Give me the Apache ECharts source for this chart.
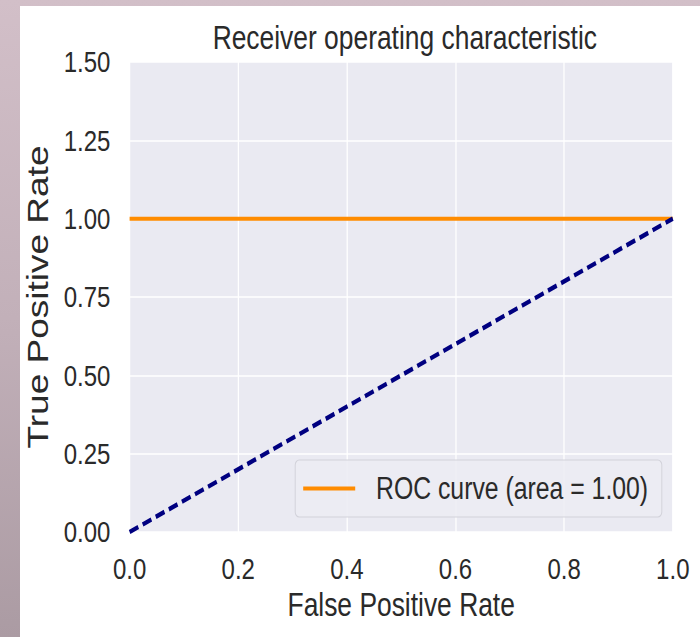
<!DOCTYPE html>
<html>
<head>
<meta charset="utf-8">
<script src="https://cdn.jsdelivr.net/npm/echarts@6/dist/echarts.min.js"></script>
<style>
html,body{margin:0;padding:0;width:700px;height:637px;overflow:hidden;}
body{background:linear-gradient(180deg,#d2bfc8 0%,#c2b0b9 50%,#ab9ba3 100%);position:relative;}
#paper{position:absolute;left:20px;top:6px;right:0;bottom:0;background:#ffffff;}
#chart{position:absolute;left:0;top:0;width:875px;height:637px;transform:scaleX(0.8);transform-origin:0 0;}
</style>
</head>
<body>
<div id="paper"></div>
<div id="chart"></div>
<script>
// ---- data ----
const rocName = 'ROC curve (area = 1.00)';
const rocFpr = [0.0, 1.0];
const rocTpr = [1.0, 1.0];
const chanceFpr = [0.0, 1.0];
const chanceTpr = [0.0, 1.0];
const xTickLabels = ['0.0', '0.2', '0.4', '0.6', '0.8', '1.0'];
const yTickLabels = ['0.00', '0.25', '0.50', '0.75', '1.00', '1.25', '1.50'];
const titleText = 'Receiver operating characteristic';
const xName = 'False Positive Rate';
const yName = 'True Positive Rate';

const FONT = '"Liberation Sans", Arial, Helvetica, sans-serif';
const TXT = '#2a2a2a';

const chart = echarts.init(document.getElementById('chart'), null, {renderer: 'svg', width: 875, height: 637});
chart.setOption({
  animation: false,
  title: {
    text: titleText,
    left: 501,
    top: 16,
    textAlign: 'center',
    textStyle: {fontFamily: FONT, fontSize: 33, fontWeight: 'normal', color: TXT}
  },
  grid: {
    left: 162, right: 34, top: 62, bottom: 105,
    show: true, backgroundColor: '#EAEAF2', borderWidth: 0
  },
  legend: {
    data: [rocName],
    left: 369, top: 460,
    icon: 'rect', itemWidth: 65, itemHeight: 4, itemGap: 0,
    padding: [13, 17, 13, 10],
    backgroundColor: 'rgba(236,236,243,0.9)',
    borderColor: '#d2d2da', borderWidth: 1.2, borderRadius: 5,
    textStyle: {fontFamily: FONT, fontSize: 31, color: TXT, padding: [0, 0, 0, 21]}
  },
  xAxis: {
    type: 'value', min: 0, max: 1, interval: 0.2,
    name: xName, nameLocation: 'middle', nameGap: 56,
    nameTextStyle: {fontFamily: FONT, fontSize: 33, color: TXT},
    axisLine: {show: false}, axisTick: {show: false},
    axisLabel: {
      fontFamily: FONT, fontSize: 30, color: TXT, margin: 21,
      formatter: v => xTickLabels[Math.round(v / 0.2)]
    },
    splitLine: {show: true, lineStyle: {color: '#ffffff', width: 1.6}}
  },
  yAxis: {
    type: 'value', min: 0, max: 1.5, interval: 0.25,
    name: yName, nameLocation: 'middle', nameGap: 96,
    nameTextStyle: {fontFamily: FONT, fontSize: 37, color: TXT},
    axisLine: {show: false}, axisTick: {show: false},
    axisLabel: {
      fontFamily: FONT, fontSize: 30, color: TXT, margin: 24,
      formatter: v => yTickLabels[Math.round(v / 0.25)]
    },
    splitLine: {show: true, lineStyle: {color: '#ffffff', width: 1.6}}
  },
  series: [
    {
      name: rocName, type: 'line', showSymbol: false, symbol: 'none',
      data: rocFpr.map((x, i) => [x, rocTpr[i]]),
      lineStyle: {color: '#FF8C00', width: 4},
      itemStyle: {color: '#FF8C00'}
    },
    {
      name: 'chance', type: 'line', showSymbol: false, symbol: 'none',
      data: chanceFpr.map((x, i) => [x, chanceTpr[i]]),
      lineStyle: {color: '#000080', width: 4.5, type: [12, 6]},
      itemStyle: {color: '#000080'}
    }
  ]
});
</script>
</body>
</html>
